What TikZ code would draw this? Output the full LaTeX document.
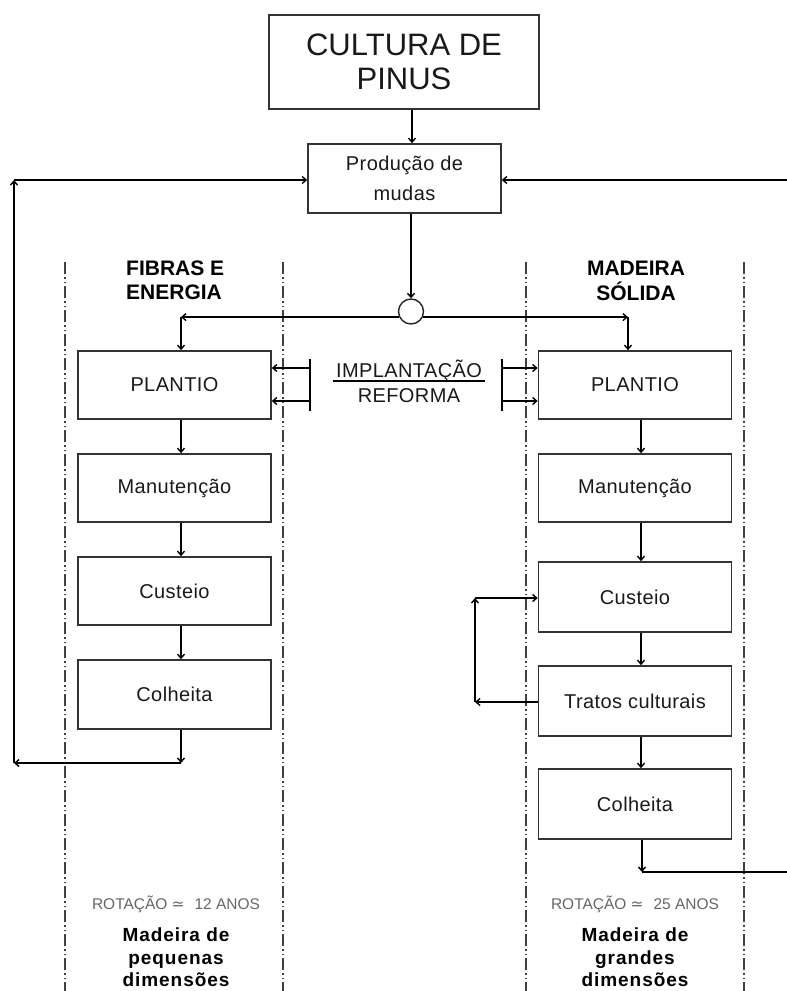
\documentclass[tikz,border=0pt]{standalone}
\usepackage{fontspec}
\setmainfont{Liberation Sans}
\newfontfamily\symfont{DejaVu Sans}
\usetikzlibrary{arrows.meta}

\begin{document}
\begin{tikzpicture}[x=1pt,y=-1pt,
  box/.style={draw=black!80, line width=1.6pt, minimum width=193pt, minimum height=68pt,
    inner sep=0pt, text=black!90,
    font=\fontsize{20}{24}\selectfont\addfontfeature{LetterSpace=2}},
  conn/.style={line width=1.4pt, -{Straight Barb[length=4pt,width=7pt]}},
  plainline/.style={line width=1.4pt},
  guide/.style={draw=black!75, line width=1.2pt,
    dash pattern=on 12pt off 3pt on 1.5pt off 3pt on 1.5pt off 3pt},
  head/.style={font=\fontsize{21}{24}\selectfont\bfseries, inner sep=0pt},
  rot/.style={font=\fontsize{15.5}{18}\selectfont, text=black!60, inner sep=0pt, anchor=base},
  prod/.style={font=\fontsize{19}{24}\selectfont\bfseries\addfontfeature{LetterSpace=5},
    inner sep=0pt, anchor=base},
  mid/.style={font=\fontsize{20}{24}\selectfont\addfontfeature{LetterSpace=2},
    inner sep=0pt, anchor=base, text=black!90},
]
\useasboundingbox (0,0) rectangle (787,991);

% column guides
\draw[guide] (65,262) -- (65,991);
\draw[guide] (283,262) -- (283,991);
\draw[guide] (526,262) -- (526,991);
\draw[guide] (744,262) -- (744,991);

% top of the flow
\node[box, minimum width=270pt, minimum height=94pt, align=center,
  font=\fontsize{31}{34}\selectfont] (cult) at (404,62) {CULTURA DE\\PINUS};
\node[box, minimum height=69pt, align=center,
  font=\fontsize{20}{30}\selectfont\addfontfeature{LetterSpace=2}] (mud) at (404.5,178.5) {Produção de\\mudas};
\node[circle, draw=black!85, line width=1.4pt, minimum size=25pt, inner sep=0pt] (jn) at (411,311.5) {};

% column headings
\node[head, anchor=base west] (h1a) at (126,275) {FIBRAS E};
\node[head, anchor=base west] (h1b) at (126,299) {ENERGIA};
\node[head, anchor=base] (h2a) at (636,275) {MADEIRA};
\node[head, anchor=base] (h2b) at (636,300) {SÓLIDA};

% left column
\node[box] (pl1) at (174.5,385) {PLANTIO};
\node[box] (ma1) at (174.5,488) {Manutenção};
\node[box] (cu1) at (174.5,591) {Custeio};
\node[box, minimum height=69pt] (co1) at (174.5,694.5) {Colheita};

% right column
\node[box] (pl2) at (635,385) {PLANTIO};
\node[box] (ma2) at (635,488) {Manutenção};
\node[box, minimum height=70pt] (cu2) at (635,597) {Custeio};
\node[box, minimum height=70pt] (tr2) at (635,701) {Tratos culturais};
\node[box, minimum height=70pt] (co2) at (635,804) {Colheita};

% central labels
\node[mid] (impl) at (409,377) {IMPLANTAÇÃO};
\node[mid] (ref) at (409,402) {REFORMA};
\draw[line width=1.2pt] (333,381) -- (485,381);

% reference columns for the connectors
\coordinate (xc) at (412,0);
\coordinate (xl) at (181,0);
\coordinate (xr) at (641,0);
\coordinate (xrt) at (628,0);

\draw[conn] (cult.south -| xc) -- (mud.north -| xc);
\draw[conn] (mud.south -| jn) -- (jn.north);

% split towards both columns
\draw[conn] (jn.205) -- (jn.205 -| xl);
\draw[conn] (jn.205 -| xl) -- (pl1.north -| xl);
\draw[conn] (jn.335) -- (jn.335 -| xrt);
\draw[conn] (jn.335 -| xrt) -- (pl2.north -| xrt);

% left chain
\draw[conn] (pl1.south -| xl) -- (ma1.north -| xl);
\draw[conn] (ma1.south -| xl) -- (cu1.north -| xl);
\draw[conn] (cu1.south -| xl) -- (co1.north -| xl);

% right chain
\draw[conn] (pl2.south -| xr) -- (ma2.north -| xr);
\draw[conn] (ma2.south -| xr) -- (cu2.north -| xr);
\draw[conn] (cu2.south -| xr) -- (tr2.north -| xr);
\draw[conn] (tr2.south -| xr) -- (co2.north -| xr);

% implantation / reform feeds
\coordinate (ia) at (310,368);
\coordinate (ib) at (310,401);
\coordinate (ic) at (502,368);
\coordinate (id) at (502,401);
\draw[plainline] (310,359) -- (310,411);
\draw[plainline] (502,359) -- (502,411);
\draw[conn] (ia) -- (pl1.east |- ia);
\draw[conn] (ib) -- (pl1.east |- ib);
\draw[conn] (ic) -- (pl2.west |- ic);
\draw[conn] (id) -- (pl2.west |- id);

% return loop of the short rotation
\coordinate (lc) at (181,763);
\coordinate (ll) at (14,763);
\coordinate (lt) at (14,180);
\draw[conn] (co1.south -| xl) -- (lc);
\draw[conn] (lc) -- (ll);
\draw[conn] (ll) -- (lt);
\draw[conn] (lt) -- (mud.west |- lt);

% return from the right edge
\coordinate (rt) at (787,180);
\draw[conn] (rt) -- (mud.east |- rt);

% thinning loop
\coordinate (lp1) at (475,702);
\coordinate (lp2) at (475,598);
\draw[conn] (tr2.west |- lp1) -- (lp1);
\draw[conn] (lp1) -- (lp2);
\draw[conn] (lp2) -- (cu2.west |- lp2);

% long rotation exit
\coordinate (rc) at (642,872);
\coordinate (re) at (787,872);
\draw[conn] (co2.south -| rc) -- (rc);
\draw[plainline] (rc) -- (re);

% rotation notes and products
\node[rot] (r1) at (176,909) {ROTAÇÃO\hspace{4pt}{\symfont ≃}\hspace{10pt}12 ANOS};
\node[rot] (r2) at (635,909) {ROTAÇÃO\hspace{4pt}{\symfont ≃}\hspace{10pt}25 ANOS};
\node[prod] (p1a) at (176,941) {Madeira de};
\node[prod] (p1b) at (176,964) {pequenas};
\node[prod] (p1c) at (176,986) {dimensões};
\node[prod] (p2a) at (635,941) {Madeira de};
\node[prod] (p2b) at (635,964) {grandes};
\node[prod] (p2c) at (635,986) {dimensões};
\end{tikzpicture}
\end{document}
